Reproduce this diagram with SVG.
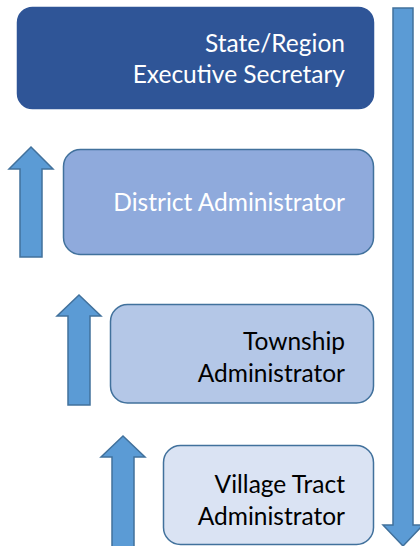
<svg xmlns="http://www.w3.org/2000/svg" width="420" height="546" viewBox="0 0 420 546">
<style>
.box{stroke:#41719C;stroke-width:1.5}
.arrow{fill:#5B9BD5;stroke:#41719C;stroke-width:1.5;stroke-linejoin:miter}
text{font-family:Lato,"Liberation Sans",sans-serif;font-size:24.5px;text-anchor:end}
.w{fill:#FFFFFF}
.k{fill:#000000}
</style>
<rect width="420" height="546" fill="#FFFFFF"/>
<g id="connectors">
<polygon class="arrow" points="393,8 413,8 413,525 423,525 403,546 383,525 393,525"/>
<polygon class="arrow" points="31,147 53,169 42,169 42,257 20,257 20,169 9,169"/>
<polygon class="arrow" points="79,295 101,316 90,316 90,405 68,405 68,316 57,316"/>
<polygon class="arrow" points="123,436 145,457 134,457 134,548 112,548 112,457 101,457"/>
</g>
<g id="state-region">
<rect x="17.5" y="7.5" width="356" height="101" rx="15" fill="#2F5597" stroke="#2F5597" stroke-width="1.5"/>
<text class="w" x="345" y="52">State/Region</text>
<text class="w" x="345" y="83">Executive Secretary</text>
</g>
<g id="district">
<rect class="box" x="63.5" y="149.5" width="310" height="105" rx="17" fill="#8FAADC"/>
<text class="w" x="345" y="211">District Administrator</text>
</g>
<g id="township">
<rect class="box" x="110.5" y="304.5" width="263" height="98.5" rx="17" fill="#B4C7E7"/>
<text class="k" x="345" y="350">Township</text>
<text class="k" x="345" y="382">Administrator</text>
</g>
<g id="village">
<rect class="box" x="163.5" y="445.5" width="210" height="99" rx="17" fill="#DAE3F3"/>
<text class="k" x="345" y="493">Village Tract</text>
<text class="k" x="345" y="525">Administrator</text>
</g>
</svg>
